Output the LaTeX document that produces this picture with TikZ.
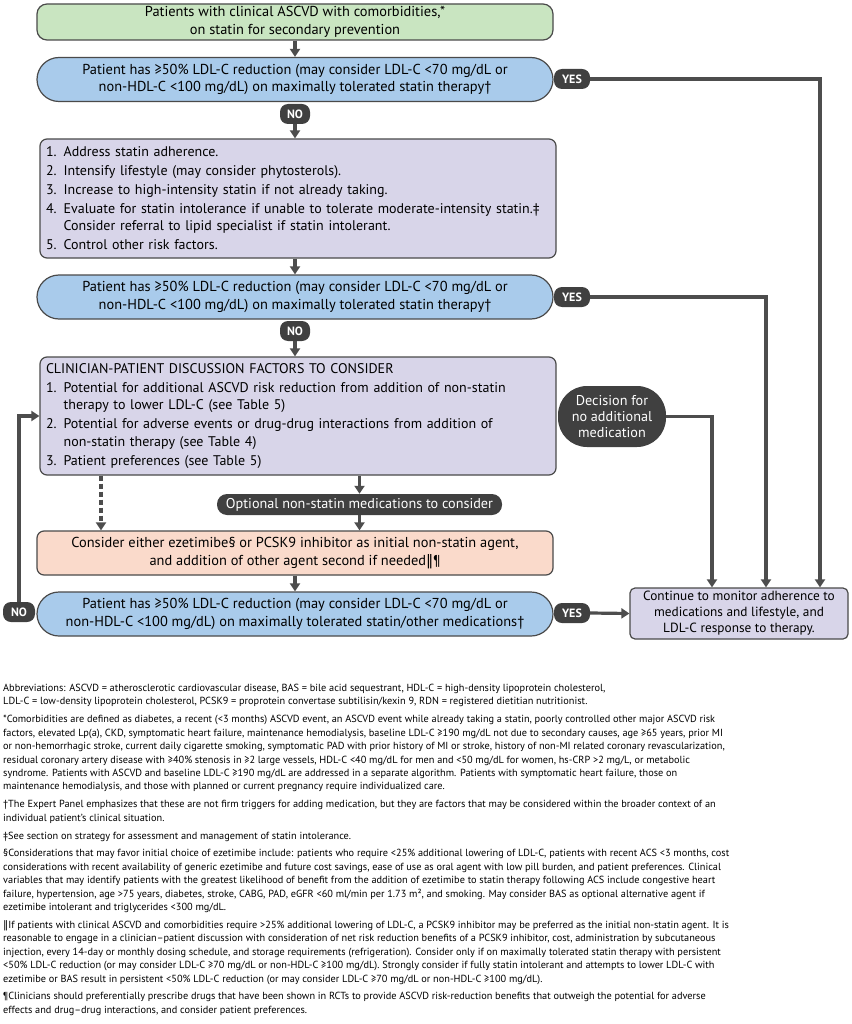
\documentclass[tikz,border=0pt]{standalone}
\usepackage{fontspec}
\setmainfont{PT Sans}
\newfontfamily\dejavu{DejaVu Sans}
\usetikzlibrary{arrows.meta}
\definecolor{boxline}{HTML}{4A4A4A}
\definecolor{connc}{HTML}{4D4D4D}
\definecolor{pillc}{HTML}{404040}
\definecolor{greenfill}{HTML}{C9E5C1}
\definecolor{bluefill}{HTML}{A9CBEB}
\definecolor{lavfill}{HTML}{D8D5E9}
\definecolor{peachfill}{HTML}{FADACB}
\newcommand{\dbar}{{\dejavu ‖}}
\tikzset{
  box/.style={draw=boxline, line width=1.2pt, rounded corners=7pt, minimum width=516pt,
    inner sep=0pt, font=\fontsize{14.4}{17.5}\selectfont, align=center},
  listbox/.style={box, fill=lavfill, text width=504pt, align=left,
    font=\fontsize{14}{17.2}\selectfont},
  decis/.style={box, fill=bluefill, rounded corners=22pt, minimum height=44pt},
  pillnode/.style={fill=pillc, text=white, rounded corners=8pt, inner sep=0pt,
    font=\bfseries\fontsize{12}{13}\selectfont, minimum height=20pt},
  conn/.style={draw=connc, line width=3.2pt, -{Triangle[width=10pt,length=8pt]}}
}
\begin{document}
\begin{tikzpicture}[x=1pt,y=-1pt]
\useasboundingbox (0,0) rectangle (851,1024);
\fill[white] (0,0) rectangle (851,1024);

% main column
\node[box, fill=greenfill, rounded corners=10pt, minimum height=36pt] (start) at (295,22)
  {Patients with clinical ASCVD with comorbidities,*\\ on statin for secondary prevention};
\node[decis] (dec1) at (295,79.5)
  {Patient has ≥50\% LDL-C reduction (may consider LDL-C <70 mg/dL or\\ non-HDL-C <100 mg/dL) on maximally tolerated statin therapy†};
\node[pillnode, minimum width=36pt] (yes1) at (572,79) {YES};
\node[pillnode, minimum width=30pt] (no1) at (295,114) {NO};

\node[listbox, minimum height=119pt] (list) at (298,198.5)
  {1. Address statin adherence.\\[1.8pt]
   2. Intensify lifestyle (may consider phytosterols).\\[1.8pt]
   3. Increase to high-intensity statin if not already taking.\\[1.8pt]
   \mbox{4. Evaluate for statin intolerance if unable to tolerate moderate-intensity statin.‡}\\
   \hphantom{4. }Consider referral to lipid specialist if statin intolerant.\\[1.8pt]
   5. Control other risk factors.};

\node[decis] (dec2) at (295,297)
  {Patient has ≥50\% LDL-C reduction (may consider LDL-C <70 mg/dL or\\ non-HDL-C <100 mg/dL) on maximally tolerated statin therapy†};
\node[pillnode, minimum width=36pt] (yes2) at (572,297) {YES};
\node[pillnode, minimum width=30pt] (no2) at (295,331) {NO};

\node[listbox, minimum height=118pt] (disc) at (298,416)
  {CLINICIAN-PATIENT DISCUSSION FACTORS TO CONSIDER\\[1.8pt]
   \mbox{1. Potential for additional ASCVD risk reduction from addition of non-statin}\\
   \hphantom{1. }therapy to lower LDL-C (see Table 5)\\[1.8pt]
   \mbox{2. Potential for adverse events or drug-drug interactions from addition of}\\
   \hphantom{2. }non-statin therapy (see Table 4)\\[1.8pt]
   3. Patient preferences (see Table 5)};

\node[fill=pillc, text=white, rounded corners=29pt, minimum width=108pt, minimum height=61pt,
  inner sep=0pt, align=center, font=\fontsize{14.2}{16}\selectfont] (nomed) at (612,416.5)
  {Decision for\\ no additional\\ medication};

\node[fill=pillc, text=white, rounded corners=10pt, minimum width=285pt, minimum height=21pt,
  inner sep=0pt, font=\fontsize{14.2}{15}\selectfont] (opt) at (359.5,504.5)
  {Optional non-statin medications to consider};

\node[box, fill=peachfill, minimum height=44pt] (peach) at (295,553)
  {Consider either ezetimibe§ or PCSK9 inhibitor as initial non-statin agent,\\ and addition of other agent second if needed\dbar¶};

\node[decis] (dec3) at (295,614)
  {Patient has ≥50\% LDL-C reduction (may consider LDL-C <70 mg/dL or\\ non-HDL-C <100 mg/dL) on maximally tolerated statin/other medications†};
\node[pillnode, minimum width=36pt] (yes3) at (572,613) {YES};
\node[pillnode, minimum width=32pt] (no3) at (19,612) {NO};

\node[draw=boxline, line width=1.2pt, fill=lavfill, rounded corners=5pt, minimum width=218pt,
  minimum height=51pt, inner sep=0pt, align=center, font=\fontsize{13.3}{16}\selectfont] (cont) at (739,613.5)
  {Continue to monitor adherence to\\ medications and lifestyle, and\\ LDL-C response to therapy.};

% helper coordinates
\coordinate (xr1) at (820,0);
\coordinate (xr2) at (766,0);
\coordinate (xr3) at (712,0);
\coordinate (xdash) at (101,0);

% connectors
\draw[conn] (start) -- (dec1);
\draw[conn] (no1) -- (no1 |- list.north);
\draw[conn] (list.south -| dec2.north) -- (dec2);
\draw[conn] (no2) -- (no2 |- disc.north);
\draw[conn] (yes1.east) -| (cont.north -| xr1);
\draw[conn] (yes2.east) -| (cont.north -| xr2);
\draw[conn] (nomed.east) -| (cont.north -| xr3);
\draw[conn] (disc.south -| opt.north) -- (opt.north);
\draw[conn] (opt) -- (opt.south |- peach.north);
\draw[conn, dash pattern=on 5pt off 3pt] (disc.south -| xdash) -- (peach.north -| xdash);
\draw[conn] (peach) -- (dec3);
\draw[conn] (yes3.east) -- (cont.west);
\draw[conn] (no3.north) |- (disc.west);

% footnotes
\node[anchor=north west, inner sep=0pt, align=left, font=\fontsize{10.3}{13.4}\selectfont] (notes) at (3,684)
 {Abbreviations: ASCVD = atherosclerotic cardiovascular disease, BAS = bile acid sequestrant, HDL-C = high-density lipoprotein cholesterol,\\
LDL-C = low-density lipoprotein cholesterol, PCSK9 = proprotein convertase subtilisin/kexin 9, RDN = registered dietitian nutritionist.\\[4.5pt]
*Comorbidities are defined as diabetes, a recent (<3 months) ASCVD event, an ASCVD event while already taking a statin, poorly controlled other major ASCVD risk\\
factors, elevated Lp(a), CKD, symptomatic heart failure, maintenance hemodialysis, baseline LDL-C ≥190 mg/dL not due to secondary causes, age ≥65 years, prior MI\\
or non-hemorrhagic stroke, current daily cigarette smoking, symptomatic PAD with prior history of MI or stroke, history of non-MI related coronary revascularization,\\
residual coronary artery disease with ≥40\% stenosis in ≥2 large vessels, HDL-C <40 mg/dL for men and <50 mg/dL for women, hs-CRP >2 mg/L, or metabolic\\
syndrome. Patients with ASCVD and baseline LDL-C ≥190 mg/dL are addressed in a separate algorithm. Patients with symptomatic heart failure, those on\\
maintenance hemodialysis, and those with planned or current pregnancy require individualized care.\\[4.5pt]
†The Expert Panel emphasizes that these are not firm triggers for adding medication, but they are factors that may be considered within the broader context of an\\
individual patient’s clinical situation.\\[4.5pt]
‡See section on strategy for assessment and management of statin intolerance.\\[4.5pt]
§Considerations that may favor initial choice of ezetimibe include: patients who require <25\% additional lowering of LDL-C, patients with recent ACS <3 months, cost\\
considerations with recent availability of generic ezetimibe and future cost savings, ease of use as oral agent with low pill burden, and patient preferences. Clinical\\
variables that may identify patients with the greatest likelihood of benefit from the addition of ezetimibe to statin therapy following ACS include congestive heart\\
failure, hypertension, age >75 years, diabetes, stroke, CABG, PAD, eGFR <60 ml/min per 1.73 m², and smoking. May consider BAS as optional alternative agent if\\
ezetimibe intolerant and triglycerides <300 mg/dL.\\[4.5pt]
\dbar If patients with clinical ASCVD and comorbidities require >25\% additional lowering of LDL-C, a PCSK9 inhibitor may be preferred as the initial non-statin agent. It is\\
reasonable to engage in a clinician–patient discussion with consideration of net risk reduction benefits of a PCSK9 inhibitor, cost, administration by subcutaneous\\
injection, every 14-day or monthly dosing schedule, and storage requirements (refrigeration). Consider only if on maximally tolerated statin therapy with persistent\\
<50\% LDL-C reduction (or may consider LDL-C ≥70 mg/dL or non-HDL-C ≥100 mg/dL). Strongly consider if fully statin intolerant and attempts to lower LDL-C with\\
ezetimibe or BAS result in persistent <50\% LDL-C reduction (or may consider LDL-C ≥70 mg/dL or non-HDL-C ≥100 mg/dL).\\[4.5pt]
¶Clinicians should preferentially prescribe drugs that have been shown in RCTs to provide ASCVD risk-reduction benefits that outweigh the potential for adverse\\
effects and drug–drug interactions, and consider patient preferences.};
\end{tikzpicture}
\end{document}
